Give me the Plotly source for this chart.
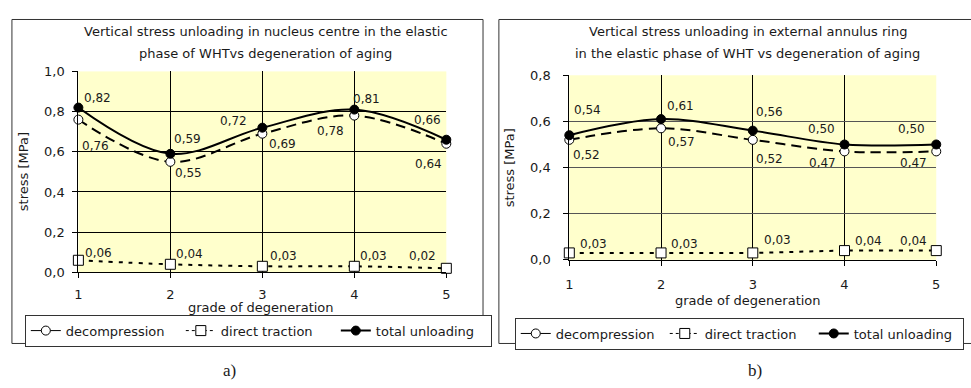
import plotly.graph_objects as go

# ---------------- data ----------------
grades = [1, 2, 3, 4, 5]

a_decompression = [0.76, 0.55, 0.69, 0.78, 0.64]
a_traction = [0.06, 0.04, 0.03, 0.03, 0.02]
a_total = [0.82, 0.59, 0.72, 0.81, 0.66]

b_decompression = [0.52, 0.57, 0.52, 0.47, 0.47]
b_traction = [0.03, 0.03, 0.03, 0.04, 0.04]
b_total = [0.54, 0.61, 0.56, 0.50, 0.50]

series_names = ["decompression", "direct traction", "total unloading"]
a_title = ["Vertical stress unloading in nucleus centre in the elastic",
           "phase of WHTvs degeneration of aging"]
b_title = ["Vertical stress unloading in external annulus ring",
           "in the elastic phase of WHT vs degeneration of aging"]
x_title = "grade of degeneration"
y_title = "stress [MPa]"
a_yticks = [0.0, 0.2, 0.4, 0.6, 0.8, 1.0]
b_yticks = [0.0, 0.2, 0.4, 0.6, 0.8]

# ---------------- styles ----------------
W, H = 971, 388
FONT = "DejaVu Sans"
TXT = "#1a1a1a"


def px(x):
    return x / W


def py(y):
    return 1 - y / H


styles = {
    "decompression": dict(line=dict(color="black", width=2, dash="10px,6px"),
                          marker=dict(symbol="circle", size=9, color="white",
                                      line=dict(color="black", width=1))),
    "direct traction": dict(line=dict(color="black", width=2, dash="4px,6px"),
                            marker=dict(symbol="square", size=10, color="white",
                                        line=dict(color="black", width=1))),
    "total unloading": dict(line=dict(color="black", width=2),
                            marker=dict(symbol="circle", size=9, color="black",
                                        line=dict(color="black", width=1))),
}
legend_line = {
    "decompression": dict(color="black", width=1),
    "direct traction": dict(color="black", width=1, dash="3px,3px"),
    "total unloading": dict(color="black", width=2),
}

fig = go.Figure()

panels = [
    ("x", "y", "legend", [a_decompression, a_traction, a_total]),
    ("x2", "y2", "legend2", [b_decompression, b_traction, b_total]),
]

for xa, ya, leg, data in panels:
    # draw order: traction, decompression, total (total on top)
    for idx in [1, 0, 2]:
        name = series_names[idx]
        fig.add_trace(go.Scatter(
            x=grades, y=data[idx], mode="lines+markers", name=name,
            xaxis=xa, yaxis=ya, showlegend=False, cliponaxis=False,
            line=dict(**styles[name]["line"], shape="spline", smoothing=1.0),
            marker=styles[name]["marker"], hoverinfo="skip"))
    for name in series_names:
        fig.add_trace(go.Scatter(
            x=[None], y=[None], mode="lines+markers", name=name,
            xaxis=xa, yaxis=ya, legend=leg, showlegend=True,
            line=legend_line[name], marker=styles[name]["marker"]))

# ---------------- data labels ----------------
def fmt(v):
    return f"{v:.2f}".replace(".", ",")

# pixel offsets (right, up) for each label
a_off = {
    0: [(17, -26), (18, -11), (20, -10), (-24, -15), (-18, -20)],
    1: [(20, 7), (19, 10), (21, 10), (19, 10), (-24, 12)],
    2: [(19, 10), (17, 15), (-29, 7), (12, 11), (-19, 20)],
}
b_off = {
    0: [(17, -15), (20, -14), (17, -19), (-22, -12), (-23, -12)],
    1: [(24, 9), (23, 9), (25, 13), (24, 10), (-23, 10)],
    2: [(18, 25), (19, 13), (17, 19), (-23, 15), (-25, 15)],
}

for xa, ya, data, offs in [("x", "y", [a_decompression, a_traction, a_total], a_off),
                           ("x2", "y2", [b_decompression, b_traction, b_total], b_off)]:
    for s in range(3):
        for i, g in enumerate(grades):
            dx, dy = offs[s][i]
            fig.add_annotation(x=g, y=data[s][i], xref=xa, yref=ya,
                               text=fmt(data[s][i]), showarrow=False,
                               xshift=dx, yshift=dy,
                               font=dict(family=FONT, size=12, color=TXT))

# ---------------- titles and axis titles ----------------
for cx, ys, lines in [(264, [26, 48], a_title), (750, [26, 48], b_title)]:
    for yy, t in zip(ys, lines):
        fig.add_annotation(x=px(cx), y=py(yy), xref="paper", yref="paper",
                           text=t, showarrow=False, xanchor="center", yanchor="middle",
                           font=dict(family=FONT, size=13, color=TXT))

for cx, cy in [(259, 313), (750, 305)]:
    fig.add_annotation(x=px(cx), y=py(cy), xref="paper", yref="paper",
                       text=x_title, showarrow=False, xanchor="center", yanchor="middle",
                       font=dict(family=FONT, size=13, color=TXT))
for cx, cy in [(20, 171), (510, 167)]:
    fig.add_annotation(x=px(cx), y=py(cy), xref="paper", yref="paper",
                       text=y_title, showarrow=False, textangle=-90,
                       xanchor="center", yanchor="middle",
                       font=dict(family=FONT, size=13, color=TXT))

for cx, t in [(227, "a)"), (757, "b)")]:
    fig.add_annotation(x=px(cx), y=py(378), xref="paper", yref="paper",
                       text=t, showarrow=False, xanchor="center", yanchor="middle",
                       font=dict(family="Liberation Serif", size=17, color=TXT))

# ---------------- outer frames ----------------
fig.add_shape(type="rect", xref="paper", yref="paper",
              x0=px(8), x1=px(483), y0=py(350), y1=py(13),
              line=dict(color="#333", width=1), layer="below")
fig.add_shape(type="rect", xref="paper", yref="paper",
              x0=px(499), x1=px(980), y0=py(350), y1=py(13),
              line=dict(color="#333", width=1), layer="below")

# ---------------- axes ----------------
tickfont = dict(family=FONT, size=13, color=TXT)
common_x = dict(range=[1, 5], tickvals=grades, ticks="outside", ticklen=5,
                tickcolor="black", showline=True, linecolor="black", linewidth=1,
                showgrid=True, gridcolor="black", gridwidth=1, zeroline=False,
                tickfont=tickfont, fixedrange=True)
common_y = dict(tickformat=".1f", ticks="outside", ticklen=5, tickcolor="black",
                showline=True, linecolor="black", linewidth=1, showgrid=True,
                gridwidth=1, zeroline=False, tickfont=tickfont, fixedrange=True)

legend_common = dict(orientation="h", xanchor="left", yanchor="top",
                     bgcolor="white", bordercolor="#333", borderwidth=1,
                     font=dict(family=FONT, size=13, color=TXT), itemclick=False,
                     entrywidthmode="pixels")

fig.update_layout(
    width=W, height=H,
    margin=dict(l=0, r=0, t=0, b=0),
    paper_bgcolor="white",
    plot_bgcolor="#FFFFCC",
    separators=", ",
    xaxis=dict(domain=[px(75), px(446)], anchor="y", ticklabelstandoff=5, **common_x),
    yaxis=dict(domain=[py(276), py(67)], anchor="x", range=[0, 1.0],
               tickvals=a_yticks, gridcolor="black", ticklabelstandoff=5, **common_y),
    xaxis2=dict(domain=[px(570), px(940)], anchor="y2", ticklabelstandoff=8, **common_x),
    yaxis2=dict(domain=[py(263), py(71)], anchor="x2", range=[0, 0.8],
                tickvals=b_yticks, gridcolor="#555", ticklabelstandoff=10, **common_y),
    legend=dict(x=px(21), y=py(320), entrywidth=110, **legend_common),
    legend2=dict(x=px(515), y=py(323), entrywidth=104, **legend_common),
    showlegend=True,
)

fig.write_html("out.html")
